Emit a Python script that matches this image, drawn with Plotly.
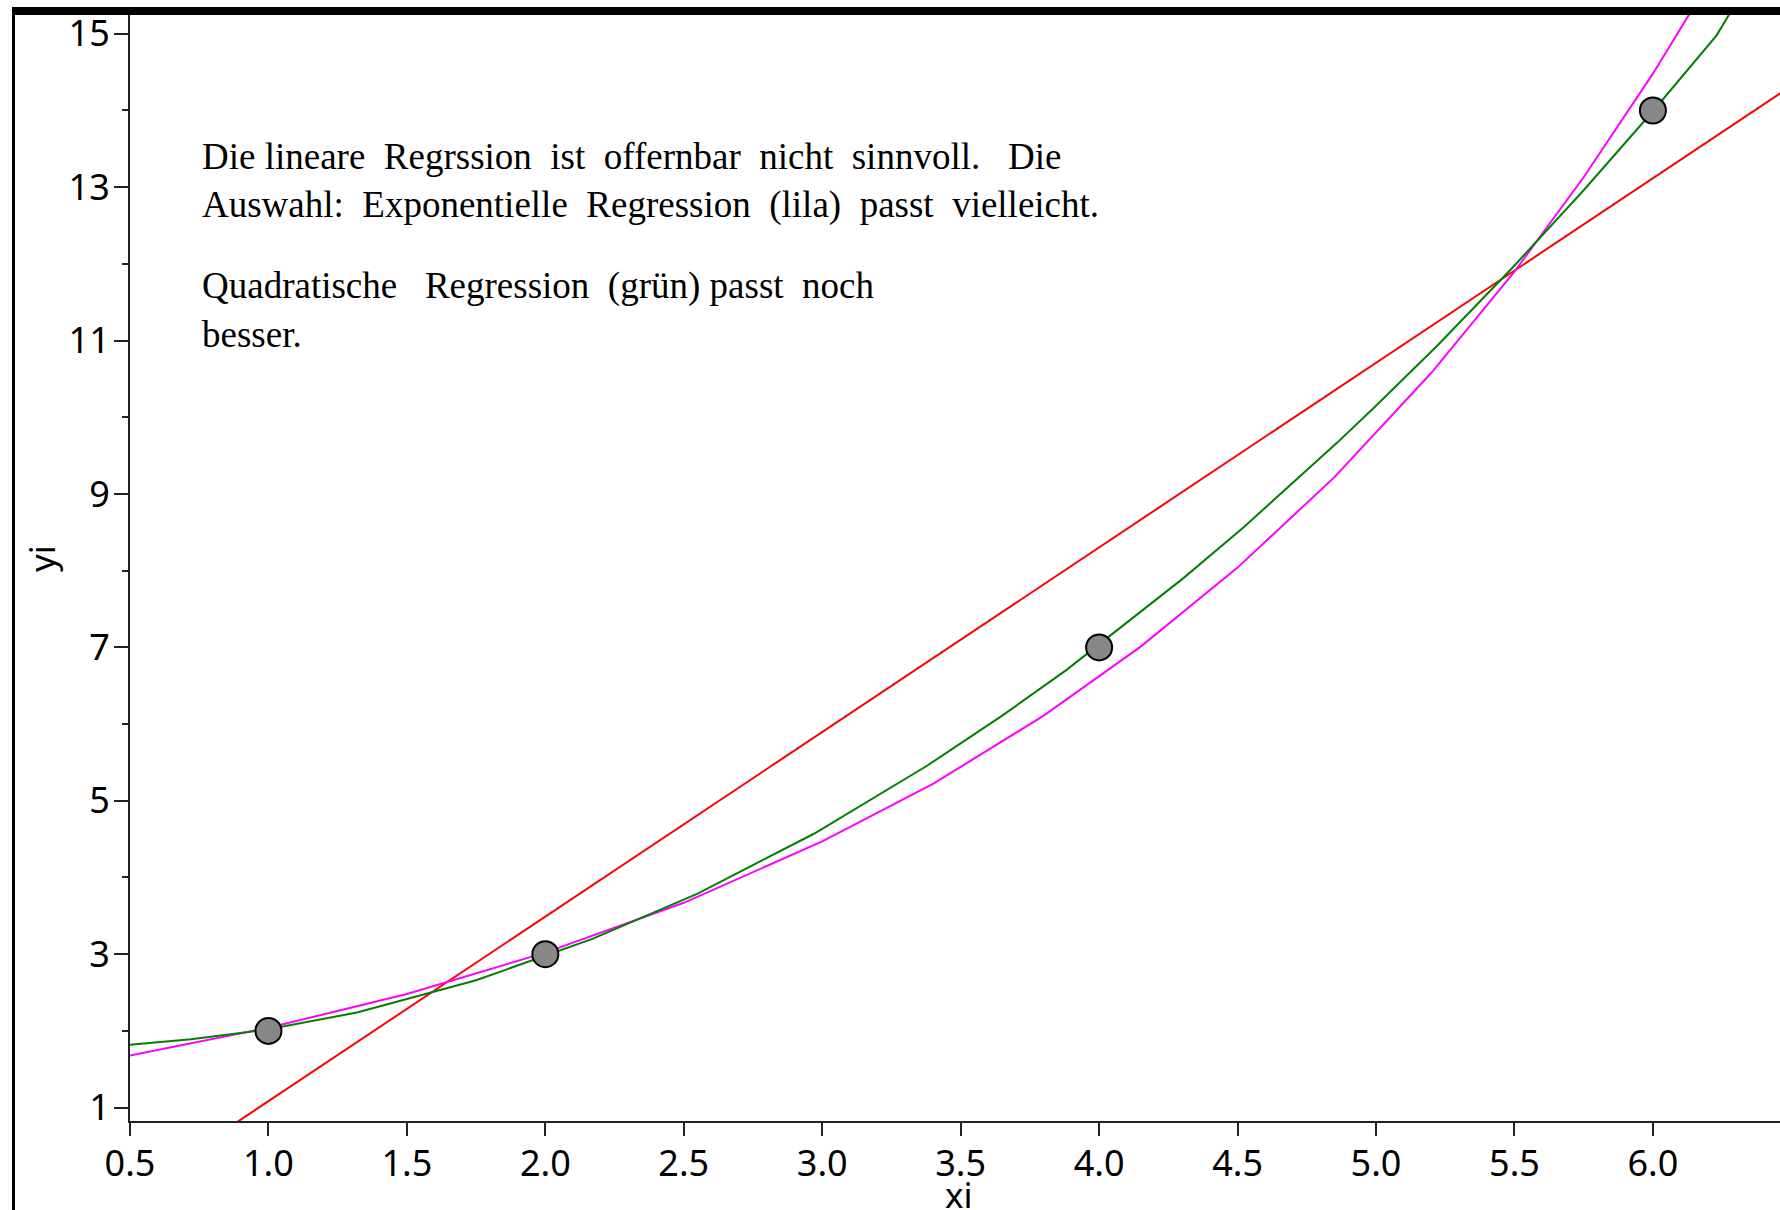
import plotly.graph_objects as go

# --- data ---
x_points = [1, 2, 4, 6]
y_points = [2, 3, 7, 14]

# linear regression (red)
lin_x = [0.5, 6.5]
lin_y = [-0.12, 14.32]

# exponential regression (magenta / lila)
exp_x = [0.5, 1.0, 1.5, 2.0, 2.5, 3.0, 3.4, 3.8, 4.15, 4.5, 4.85, 5.2, 5.5, 5.75, 6.0, 6.2]
exp_y = [1.68, 2.04, 2.48, 3.02, 3.67, 4.47, 5.22, 6.11, 7.01, 8.04, 9.22, 10.58, 11.90, 13.13, 14.48, 15.66]

# quadratic regression (green)
quad_x = [0.5, 0.72, 1.0, 1.32, 1.75, 2.17, 2.55, 2.97, 3.38, 3.65, 3.88, 4.3, 4.52, 4.86, 5.0, 5.22, 5.49, 5.75, 6.0, 6.23, 6.4]
quad_y = [1.82, 1.89, 2.02, 2.24, 2.66, 3.20, 3.79, 4.57, 5.46, 6.11, 6.70, 7.89, 8.56, 9.67, 10.15, 10.93, 11.94, 12.96, 13.99, 14.98, 16.0]

x_ticks = [0.5, 1.0, 1.5, 2.0, 2.5, 3.0, 3.5, 4.0, 4.5, 5.0, 5.5, 6.0]
y_ticks = [1, 3, 5, 7, 9, 11, 13, 15]
y_minor = [2, 4, 6, 8, 10, 12, 14]

x_title = "xi"
y_title = "yi"

S = "\u00a0"
note_lines = [
    "Die lineare" + S + " Regrssion" + S + " ist" + S + " offernbar" + S + " nicht" + S + " sinnvoll." + S + S + " Die",
    "Auswahl:" + S + " Exponentielle" + S + " Regression" + S + " (lila)" + S + " passt" + S + " vielleicht.",
    "Quadratische" + S + S + " Regression" + S + " (grün) passt" + S + " noch",
    "besser.",
]

# --- layout geometry (pixels) ---
W, H = 1780, 1210
L, R, T, B = 130, 0, 15, 89
pw = W - L - R
ph = H - T - B


def px_x(p):
    return (p - L) / pw


def px_y(p):
    return (H - B - p) / ph


fig = go.Figure()

fig.add_trace(go.Scatter(x=lin_x, y=lin_y, mode="lines",
                         line=dict(color="#ff0000", width=2), showlegend=False))
fig.add_trace(go.Scatter(x=exp_x, y=exp_y, mode="lines",
                         line=dict(color="#ff00ff", width=2), showlegend=False))
fig.add_trace(go.Scatter(x=quad_x, y=quad_y, mode="lines",
                         line=dict(color="#008000", width=2), showlegend=False))
fig.add_trace(go.Scatter(x=x_points, y=y_points, mode="markers",
                         marker=dict(size=26, color="#878787",
                                     line=dict(color="black", width=2)),
                         showlegend=False))

tick_font = dict(family="Noto Sans, Open Sans, sans-serif", size=36, color="black")
title_font = dict(family="Noto Sans, Open Sans, sans-serif", size=35, color="black")

fig.update_xaxes(
    range=[0.5, 6.459],
    tickmode="array", tickvals=x_ticks, ticktext=[f"{v:.1f}" for v in x_ticks],
    ticks="outside", ticklen=13, tickwidth=2, tickcolor="#222",
    ticklabelstandoff=-3,
    showline=True, linecolor="#222", linewidth=2,
    showgrid=False, zeroline=False,
    tickfont=tick_font,
)
fig.update_yaxes(
    range=[0.825, 15.245],
    tickmode="array", tickvals=y_ticks,
    ticks="outside", ticklen=14, tickwidth=2, tickcolor="#222",
    ticklabelstandoff=-3,
    minor=dict(ticks="outside", ticklen=6, tickwidth=2, tickcolor="#222",
               tickmode="array", tickvals=y_minor),
    showline=True, linecolor="#222", linewidth=2,
    showgrid=False, zeroline=False,
    tickfont=tick_font,
)

# axis titles placed like the reference
fig.add_annotation(xref="paper", yref="paper", x=px_x(959), y=px_y(1169),
                   xanchor="center", yanchor="top", showarrow=False,
                   text=x_title, font=title_font)
fig.add_annotation(xref="paper", yref="paper", x=px_x(41), y=px_y(559),
                   xanchor="center", yanchor="middle", showarrow=False,
                   text=y_title, textangle=-90, font=title_font)

centers = [156, 205, 286, 334]
for txt, cy in zip(note_lines, centers):
    fig.add_annotation(
        xref="paper", yref="paper", x=px_x(200), y=px_y(cy),
        xanchor="left", yanchor="middle", showarrow=False, text=txt,
        font=dict(family="Liberation Serif, Times New Roman, serif", size=37, color="black"),
    )

# frame: thick top bar and thin left border
fig.add_shape(type="rect", xref="paper", yref="paper",
              x0=px_x(12), x1=px_x(W + 20), y0=px_y(15), y1=px_y(7),
              fillcolor="black", line=dict(width=0), layer="above")
fig.add_shape(type="rect", xref="paper", yref="paper",
              x0=px_x(12), x1=px_x(15), y0=px_y(H + 20), y1=px_y(7),
              fillcolor="black", line=dict(width=0), layer="above")

fig.update_layout(
    width=W, height=H,
    margin=dict(l=L, r=R, t=T, b=B, autoexpand=False),
    paper_bgcolor="white", plot_bgcolor="white",
    showlegend=False,
)

fig.write_html("out.html")
